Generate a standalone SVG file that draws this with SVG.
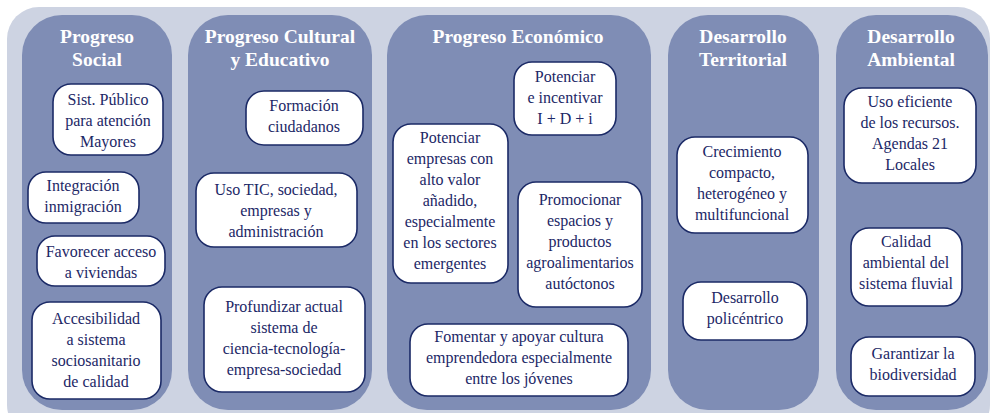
<svg xmlns="http://www.w3.org/2000/svg" width="992" height="413" viewBox="0 0 992 413" font-family="Liberation Serif, Times New Roman, serif">
<style>
.bg{fill:#cdd3e2}
.col{fill:#7f8db5}
.box{fill:#ffffff;stroke:#1b2a66;stroke-width:1.6}
.t{font-size:16px;fill:#1c2766;text-anchor:middle}
.h{font-size:19.5px;font-weight:bold;fill:#ffffff;text-anchor:middle}
</style>
<rect width="992" height="413" fill="#ffffff"/>
<rect class="bg" x="7" y="7" width="983" height="430" rx="32"/>
<g id="connectors"></g>

<g id="col-social">
<rect class="col" x="22" y="15" width="150" height="395" rx="40"/>
<text class="h" x="97" y="43">Progreso</text>
<text class="h" x="97" y="66">Social</text>
</g>
<g id="col-cultural">
<rect class="col" x="188" y="15" width="184" height="395" rx="40"/>
<text class="h" x="280" y="43">Progreso Cultural</text>
<text class="h" x="280" y="66">y Educativo</text>
</g>
<g id="col-economico">
<rect class="col" x="387" y="15" width="264" height="395" rx="40"/>
<text class="h" x="518" y="43">Progreso Económico</text>
</g>
<g id="col-territorial">
<rect class="col" x="668" y="15" width="151" height="395" rx="40"/>
<text class="h" x="743" y="43">Desarrollo</text>
<text class="h" x="743" y="66">Territorial</text>
</g>
<g id="col-ambiental">
<rect class="col" x="836" y="15" width="152" height="395" rx="40"/>
<text class="h" x="911" y="43">Desarrollo</text>
<text class="h" x="911" y="66">Ambiental</text>
</g>

<g id="n-mayores">
<rect class="box" x="53" y="84" width="110" height="71" rx="18"/>
<text class="t" x="108" y="105">Sist. Público</text>
<text class="t" x="108" y="126">para atención</text>
<text class="t" x="108" y="147">Mayores</text>
</g>
<g id="n-inmigracion">
<rect class="box" x="28" y="172" width="111" height="51" rx="18"/>
<text class="t" x="83" y="191">Integración</text>
<text class="t" x="83" y="212">inmigración</text>
</g>
<g id="n-viviendas">
<rect class="box" x="37" y="236" width="128" height="50" rx="18"/>
<text class="t" x="101" y="257">Favorecer acceso</text>
<text class="t" x="101" y="278">a viviendas</text>
</g>
<g id="n-sociosanitario">
<rect class="box" x="32" y="302" width="129" height="97" rx="18"/>
<text class="t" x="96" y="324">Accesibilidad</text>
<text class="t" x="96" y="345">a sistema</text>
<text class="t" x="96" y="366">sociosanitario</text>
<text class="t" x="96" y="387">de calidad</text>
</g>

<g id="n-formacion">
<rect class="box" x="246" y="91" width="117" height="54" rx="18"/>
<text class="t" x="304" y="111">Formación</text>
<text class="t" x="304" y="132">ciudadanos</text>
</g>
<g id="n-tic">
<rect class="box" x="196" y="173" width="161" height="74" rx="18"/>
<text class="t" x="276" y="195">Uso TIC, sociedad,</text>
<text class="t" x="276" y="216">empresas y</text>
<text class="t" x="276" y="237">administración</text>
</g>
<g id="n-ciencia">
<rect class="box" x="204" y="287" width="161" height="105" rx="18"/>
<text class="t" x="284" y="312">Profundizar actual</text>
<text class="t" x="284" y="333">sistema de</text>
<text class="t" x="284" y="354">ciencia-tecnología-</text>
<text class="t" x="284" y="375">empresa-sociedad</text>
</g>

<g id="n-idi">
<rect class="box" x="514" y="62" width="102" height="73" rx="18"/>
<text class="t" x="565" y="82">Potenciar</text>
<text class="t" x="565" y="103">e incentivar</text>
<text class="t" x="565" y="124">I + D + i</text>
</g>
<g id="n-empresas">
<rect class="box" x="393" y="124" width="115" height="159" rx="18"/>
<text class="t" x="450" y="143">Potenciar</text>
<text class="t" x="450" y="164">empresas con</text>
<text class="t" x="450" y="185">alto valor</text>
<text class="t" x="450" y="206">añadido,</text>
<text class="t" x="450" y="227">especialmente</text>
<text class="t" x="450" y="248">en los sectores</text>
<text class="t" x="450" y="269">emergentes</text>
</g>
<g id="n-agro">
<rect class="box" x="518" y="182" width="124" height="125" rx="18"/>
<text class="t" x="580" y="205">Promocionar</text>
<text class="t" x="580" y="226">espacios y</text>
<text class="t" x="580" y="247">productos</text>
<text class="t" x="580" y="268">agroalimentarios</text>
<text class="t" x="580" y="289">autóctonos</text>
</g>
<g id="n-emprendedora">
<rect class="box" x="410" y="324" width="218" height="72" rx="18"/>
<text class="t" x="519" y="342">Fomentar y apoyar cultura</text>
<text class="t" x="519" y="363">emprendedora especialmente</text>
<text class="t" x="519" y="384">entre los jóvenes</text>
</g>

<g id="n-crecimiento">
<rect class="box" x="677" y="137" width="131" height="96" rx="18"/>
<text class="t" x="742" y="157">Crecimiento</text>
<text class="t" x="742" y="178">compacto,</text>
<text class="t" x="742" y="199">heterogéneo y</text>
<text class="t" x="742" y="220">multifuncional</text>
</g>
<g id="n-policentrico">
<rect class="box" x="683" y="282" width="124" height="58" rx="18"/>
<text class="t" x="745" y="303">Desarrollo</text>
<text class="t" x="745" y="324">policéntrico</text>
</g>

<g id="n-recursos">
<rect class="box" x="844" y="88" width="132" height="95" rx="18"/>
<text class="t" x="910" y="107">Uso eficiente</text>
<text class="t" x="910" y="128">de los recursos.</text>
<text class="t" x="910" y="149">Agendas 21</text>
<text class="t" x="910" y="170">Locales</text>
</g>
<g id="n-fluvial">
<rect class="box" x="851" y="228" width="111" height="78" rx="18"/>
<text class="t" x="906" y="247">Calidad</text>
<text class="t" x="906" y="268">ambiental del</text>
<text class="t" x="906" y="289">sistema fluvial</text>
</g>
<g id="n-biodiversidad">
<rect class="box" x="851" y="337" width="124" height="59" rx="18"/>
<text class="t" x="913" y="359">Garantizar la</text>
<text class="t" x="913" y="380">biodiversidad</text>
</g>
</svg>
